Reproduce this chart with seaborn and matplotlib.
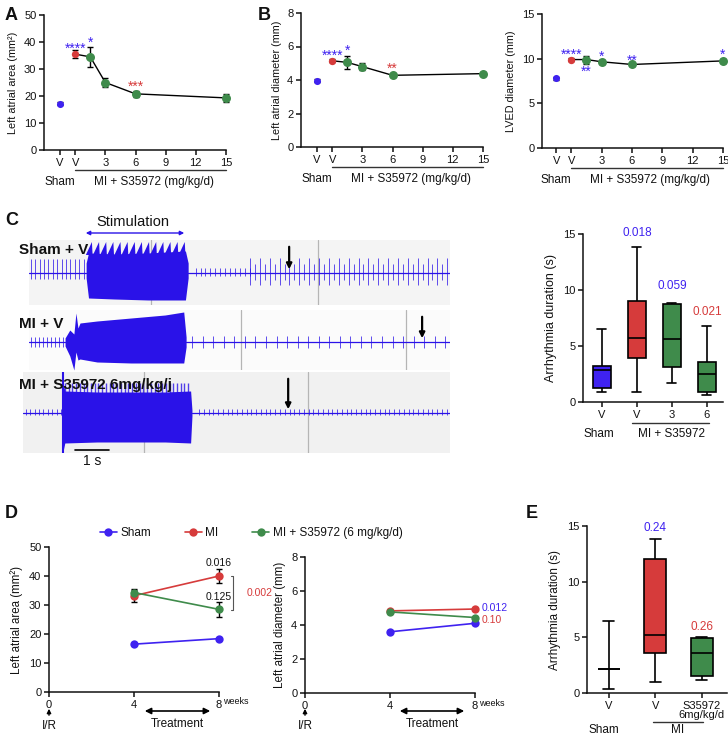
import numpy as np
import pandas as pd
import matplotlib
matplotlib.use("Agg")
import matplotlib.pyplot as plt
from matplotlib.lines import Line2D
import seaborn as sns

sns.set_theme(style="ticks")
plt.rcParams['font.family'] = ['Liberation Sans', 'DejaVu Sans']
plt.rcParams.update({'xtick.labelsize': 8, 'ytick.labelsize': 8, 'axes.labelsize': 7.8,
                     'axes.linewidth': 1.1, 'xtick.major.size': 3.5, 'ytick.major.size': 3.5,
                     'xtick.major.width': 1.1, 'ytick.major.width': 1.1,
                     'xtick.major.pad': 2, 'ytick.major.pad': 2,
                     'text.color': '#111', 'axes.labelcolor': '#111', 'axes.edgecolor': '#111',
                     'xtick.color': '#111', 'ytick.color': '#111'})

BLUE = '#3f22f0'
RED = '#d63b3b'
GREEN = '#3f8b4b'
TRACE = '#2a12e8'

# ---------------- data ----------------
# A / B / LVED : dose response (MI group, dose 0 = vehicle)
sham_x = -1.5
dose_mi = [0, 1.5, 3, 6, 15]
dose_ticks = [-1.5, 0, 3, 6, 9, 12, 15]
dose_ticklabels = ['V', 'V', '3', '6', '9', '12', '15']

area_sham, area_sham_err = 17.2, 0.5
area_mean = [35.5, 34.5, 25.0, 20.8, 19.3]
area_err = [1.4, 3.6, 1.7, 1.2, 1.6]
area_stars = [(0, 38.8, '****', BLUE), (1.5, 41.0, '*', BLUE), (6, 24.6, '***', RED)]

diam_sham, diam_sham_err = 3.95, 0.08
diam_mean = [5.15, 5.05, 4.8, 4.28, 4.38]
diam_err = [0.08, 0.4, 0.2, 0.08, 0.08]
diam_stars = [(0, 5.65, '****', BLUE), (1.5, 5.97, '*', BLUE), (6, 4.85, '**', RED)]

lved_sham, lved_sham_err = 7.8, 0.2
lved_mean = [9.9, 9.9, 9.65, 9.35, 9.75]
lved_err = [0.15, 0.45, 0.2, 0.15, 0.2]
lved_stars = [(0, 10.85, '****', BLUE), (1.5, 8.95, '**', BLUE), (3, 10.6, '*', BLUE),
              (6, 10.2, '**', BLUE), (15, 10.85, '*', BLUE)]

# C : ECG traces (time in s); beats = (start, end, interval, up, down)
tr1_stim = (1.68, 4.68)
tr1_env_t = [1.68, 1.75, 2.5, 3.5, 4.6, 4.68]
tr1_env_top = [10, 20, 19, 20, 22, 10]
tr1_env_bot = [-5, -25, -26, -27, -27, -5]
tr1_peaks = (1.85, 4.68, 0.21, 31)
tr1_beats = [(0.05, 1.68, 0.13, 14, 6), (4.9, 6.5, 0.145, 5, 3),
             (6.5, 12.4, 0.29, 15, 12), (6.645, 12.4, 0.29, 9, 7)]
tr1_arrow = 7.65
tr1_sep = [3.6, 8.5]

tr2_stim = (1.06, 4.62)
tr2_env_t = [1.06, 1.2, 1.32, 1.38, 1.44, 1.5, 2.0, 3.0, 4.0, 4.55, 4.62]
tr2_env_top = [4, 12, 8, 29, 14, 19, 21, 24, 27, 30, 5]
tr2_env_bot = [-4, -14, -28, -10, -18, -17, -20, -21, -21, -21, -5]
tr2_beats = [(0.05, 1.06, 0.12, 5, 5), (4.8, 12.4, 0.31, 6, 6)]
tr2_arrow = 11.56
tr2_sep = [6.24, 11.1]

tr3_stim = (1.0, 4.79)
tr3_env_t = [1.0, 1.05, 2.0, 3.0, 4.0, 4.75, 4.79]
tr3_env_top = [30, 22, 21, 21, 21, 22, 3]
tr3_env_bot = [-38, -30, -29, -29, -29, -30, -3]
tr3_spikes = (1.05, 4.79, 0.11, 30)
tr3_beats = [(-0.1, 0.95, 0.13, 4, 2), (5.0, 12.4, 0.14, 4, 1.5)]
tr3_arrow = 7.62
tr3_sep = [3.38, 8.2]

# C : box plot (five-number summaries)
c_groups = ['V_sham', 'V_mi', '3', '6']
c_ticklabels = ['V', 'V', '3', '6']
c_values = [[0.9, 1.25, 2.9, 3.2, 6.5],
            [0.9, 3.9, 5.7, 9.0, 13.8],
            [1.7, 3.1, 5.6, 8.75, 8.8],
            [0.6, 0.85, 2.5, 3.55, 6.8]]
c_pvals = [(1, 15.1, '0.018', BLUE), (2, 10.4, '0.059', BLUE), (3, 8.0, '0.021', RED)]

# D : time course
weeks = [4, 8]
d_groups = ['Sham', 'MI', 'MI + S35972 (6 mg/kg/d)']
d_area = {'Sham': [16.5, 18.4], 'MI': [33.2, 40.0], 'MI + S35972 (6 mg/kg/d)': [34.3, 28.5]}
d_area_err = {'MI': [2.0, 2.5], 'MI + S35972 (6 mg/kg/d)': [1.3, 2.5]}
d_diam = {'Sham': [3.6, 4.1], 'MI': [4.83, 4.94], 'MI + S35972 (6 mg/kg/d)': [4.77, 4.44]}

# E : box plot
e_groups = ['V_sham', 'V_mi', 'S']
e_ticklabels = ['V', 'V', 'S35972\n6mg/kg/d']
e_values = [[0.4, 2.2, 2.2, 2.2, 6.5],
            [1.0, 3.6, 5.25, 12.0, 13.8],
            [1.2, 1.5, 3.55, 4.95, 5.05]]
e_pvals = [(1, 14.8, '0.24', BLUE), (2, 5.9, '0.26', RED)]

# ---------------- figure ----------------
W, H = 728, 735
fig = plt.figure(figsize=(W / 100, H / 100), dpi=100)


def px_axes(l, t, r, b, **kw):
    return fig.add_axes([l / W, 1 - b / H, (r - l) / W, (b - t) / H], **kw)


def below(ax, x, off, s, **kw):
    h = ax.get_position().height * H
    ax.text(x, -off / h, s, transform=ax.get_xaxis_transform(), ha='center', va='center',
            clip_on=False, **kw)


def underline(ax, x0, x1, off):
    h = ax.get_position().height * H
    ax.plot([x0, x1], [-off / h] * 2, transform=ax.get_xaxis_transform(), color='#333',
            lw=1, clip_on=False)


def noclip(container):
    for a in container.get_children():
        a.set_clip_on(False)


def dose_panel(ax, sham, sham_err, means, errs, ylim, yticks, ylabel, stars, xlim):
    sns.lineplot(x=dose_mi, y=means, color='black', linewidth=1, ax=ax, zorder=2)
    noclip(ax.errorbar(dose_mi, means, yerr=errs, fmt='none', ecolor='black', elinewidth=1,
                       capsize=2.5, capthick=1, zorder=3))
    noclip(ax.errorbar([sham_x], [sham], yerr=[sham_err], fmt='none', ecolor='black',
                       elinewidth=1, capsize=2.5, capthick=1, zorder=3))
    sns.scatterplot(x=dose_mi[1:], y=means[1:], color=GREEN, s=42, linewidth=0, zorder=4,
                    ax=ax, clip_on=False)
    sns.scatterplot(x=[0], y=[means[0]], color=RED, s=28, linewidth=0, zorder=4, ax=ax)
    sns.scatterplot(x=[sham_x], y=[sham], color=BLUE, s=26, linewidth=0, zorder=4, ax=ax)
    for x, y, s, c in stars:
        # asterisks sit high in their glyph box, so nudge them down
        ax.annotate(s, (x, y), xytext=(0, -2.5), textcoords='offset points', color=c,
                    ha='center', va='center', fontsize=10, annotation_clip=False)
    ax.set_xlim(*xlim)
    ax.set_ylim(*ylim)
    ax.set_xticks(dose_ticks, dose_ticklabels)
    ax.set_yticks(yticks)
    ax.set_ylabel(ylabel, labelpad=4)
    sns.despine(ax=ax)
    underline(ax, 0, 15, 20)
    below(ax, sham_x, 32, 'Sham', fontsize=8.5)
    below(ax, 7.8, 32, 'MI + S35972 (mg/kg/d)', fontsize=8.5)


axA = px_axes(44, 15, 226, 150)
dose_panel(axA, area_sham, area_sham_err, area_mean, area_err, (0, 50), range(0, 51, 10),
           'Left atrial area (mm²)', area_stars, (-3.1, 15))
axB = px_axes(301, 13, 483, 147)
dose_panel(axB, diam_sham, diam_sham_err, diam_mean, diam_err, (0, 8), range(0, 9, 2),
           'Left atrial diameter (mm)', diam_stars, (-3.1, 15))
axL = px_axes(542, 14, 723, 148)
dose_panel(axL, lved_sham, lved_sham_err, lved_mean, lved_err, (0, 15), range(0, 16, 5),
           'LVED diameter (mm)', lved_stars, (-2.9, 15))


# ---- C traces ----
def draw_trace(ax, stim, env_t, env_top, env_bot, beats, arrow, seps, ylim, face):
    ax.set_facecolor(face)
    for s in seps:
        ax.axvline(s, color='#b5b5b5', lw=0.9, zorder=1)
    ax.plot([ax.get_xlim()[0], stim[0]], [0, 0], color=TRACE, lw=0.9, zorder=2)
    ax.plot([stim[1], 12.4], [0, 0], color=TRACE, lw=0.9, zorder=2)
    for b0, b1, step, up, down in beats:
        tb = np.arange(b0, b1, step)
        ax.vlines(tb, -down, up, color=TRACE, lw=0.7, alpha=0.75, zorder=2)
    ax.fill_between(env_t, env_bot, env_top, color=TRACE, lw=0, zorder=3)
    ax.annotate('', xy=(arrow, 1), xytext=(arrow, ylim[1] - 4),
                arrowprops=dict(arrowstyle='-|>', color='black', lw=1.6, mutation_scale=8),
                zorder=5)
    ax.set_ylim(*ylim)
    ax.set_xticks([])
    ax.set_yticks([])
    for sp in ax.spines.values():
        sp.set_visible(False)


t1 = px_axes(29, 240, 450, 305)
t1.set_xlim(0, 12.38)
draw_trace(t1, tr1_stim, tr1_env_t, tr1_env_top, tr1_env_bot, tr1_beats,
           tr1_arrow, tr1_sep, (-32, 33), '#f4f4f4')
# sawtooth crest of the stimulation burst
p0, p1, pstep, ptop = tr1_peaks
for tp in np.arange(p0, p1, pstep):
    t1.fill([tp - pstep * 0.85, tp, tp + 0.02], [18, ptop, 18], color=TRACE, lw=0, zorder=3)

t2 = px_axes(29, 310, 450, 370)
t2.set_xlim(0, 12.38)
draw_trace(t2, tr2_stim, tr2_env_t, tr2_env_top, tr2_env_bot, tr2_beats,
           tr2_arrow, tr2_sep, (-28, 32), '#fbfbfb')

t3 = px_axes(23, 372, 450, 453)
t3.set_xlim(-0.18, 12.38)
draw_trace(t3, tr3_stim, tr3_env_t, tr3_env_top, tr3_env_bot, tr3_beats,
           tr3_arrow, tr3_sep, (-40, 41), '#f1f1f1')
s0, s1, sstep, stop = tr3_spikes
t3.vlines(np.arange(s0, s1, sstep), 0, stop, color=TRACE, lw=1, alpha=0.8, zorder=3)
t3.vlines([1.0], -40, 41, color=TRACE, lw=1.5, zorder=4)
t3.plot([1.35, 2.35], [-37, -37], color='black', lw=1.2, zorder=5)


# ---- box plots ----
def box_panel(ax, groups, values, colors, ticklabels, pvals, xlim, width, labsize):
    df = pd.DataFrame({'group': np.repeat(groups, 5), 'value': np.concatenate(values)})
    sns.boxplot(data=df, x='group', y='value', hue='group', order=groups, hue_order=groups,
                palette=dict(zip(groups, colors)), whis=(0, 100), width=width, saturation=1,
                linecolor='black', linewidth=1.2, legend=False, ax=ax)
    for x, y, s, c in pvals:
        ax.text(x, y, s, color=c, ha='center', va='center', fontsize=8.5, clip_on=False)
    ax.set_xlim(*xlim)
    ax.set_ylim(0, 15)
    ax.set_yticks([0, 5, 10, 15])
    ax.set_xticks(range(len(groups)), ticklabels)
    ax.set_xlabel('')
    ax.set_ylabel('Arrhythmia duration (s)', labelpad=4, fontsize=labsize)
    sns.despine(ax=ax)


axC = px_axes(583, 234, 723, 402)
box_panel(axC, c_groups, c_values, [BLUE, RED, GREEN, GREEN], c_ticklabels, c_pvals,
          (-0.54, 3.46), 0.52, 9)
underline(axC, 0.86, 3.06, 21)
below(axC, -0.1, 32, 'Sham', fontsize=8.5)
below(axC, 2.0, 32, 'MI + S35972', fontsize=8.5)

axE = px_axes(587, 526, 727, 693)
box_panel(axE, e_groups, e_values, ['white', RED, GREEN], e_ticklabels, e_pvals,
          (-0.47, 2.54), 0.47, 8.5)
for lab in axE.get_xticklabels():
    lab.set_linespacing(0.9)
underline(axE, 0.95, 2.02, 29)
below(axE, -0.1, 37, 'Sham', fontsize=8.5)
below(axE, 1.48, 37, 'MI', fontsize=8.5)

# ---- D time course ----
pal = dict(zip(d_groups, [BLUE, RED, GREEN]))


def long_df(d):
    return pd.DataFrame([(g, w, v) for g in d_groups for w, v in zip(weeks, d[g])],
                        columns=['group', 'week', 'value'])


def time_panel(ax, d, ylim, yticks, ylabel):
    sns.lineplot(data=long_df(d), x='week', y='value', hue='group', hue_order=d_groups,
                 palette=pal, marker='o', markersize=6, markeredgewidth=0, linewidth=1.2,
                 legend=False, ax=ax, clip_on=False, zorder=3)
    ax.set_xlim(0, 8)
    ax.set_ylim(*ylim)
    ax.set_xticks([0, 4, 8])
    ax.set_yticks(yticks)
    ax.set_xlabel('')
    ax.set_ylabel(ylabel, labelpad=4, fontsize=8.3)
    sns.despine(ax=ax)
    ax.text(8.2, -10 / (ax.get_position().height * H), 'weeks', fontsize=6.5, ha='left',
            va='center', transform=ax.get_xaxis_transform(), clip_on=False)


axD1 = px_axes(49, 547, 219, 692)
time_panel(axD1, d_area, (0, 50), range(0, 51, 10), 'Left atrial area (mm²)')
for g in ['MI', 'MI + S35972 (6 mg/kg/d)']:
    noclip(axD1.errorbar(weeks, d_area[g], yerr=d_area_err[g], fmt='none', ecolor='black',
                         elinewidth=1, capsize=2.5, capthick=1, zorder=2))
axD1.text(8, 44.5, '0.016', ha='center', va='center', fontsize=7.5, clip_on=False)
axD1.text(8, 32.8, '0.125', ha='center', va='center', fontsize=7.5, clip_on=False)
axD1.plot([8.55, 8.66, 8.66, 8.55], [40, 40, 28.4, 28.4], color='#555', lw=0.8, clip_on=False)
axD1.text(9.3, 34.0, '0.002', color=RED, ha='left', va='center', fontsize=7.5, clip_on=False)

axD2 = px_axes(305, 557, 475, 693)
time_panel(axD2, d_diam, (0, 8), range(0, 9, 2), 'Left atrial diameter (mm)')
axD2.text(8.3, 5.0, '0.012', color=BLUE, ha='left', va='center', fontsize=7.5, clip_on=False)
axD2.text(8.3, 4.3, '0.10', color=RED, ha='left', va='center', fontsize=7.5, clip_on=False)

handles = [Line2D([], [], color=pal[g], marker='o', ms=6, mew=0, lw=1.2) for g in d_groups]
fig.legend(handles, d_groups, loc='center left', bbox_to_anchor=(100 / W, 1 - 533 / H), ncol=3,
           frameon=False, handlelength=1.4, handletextpad=0.3, columnspacing=2.9,
           borderpad=0, borderaxespad=0, fontsize=8.5)

# ---- overlay for labels and arrows ----
ov = fig.add_axes([0, 0, 1, 1], zorder=10)
ov.set_xlim(0, W)
ov.set_ylim(H, 0)
ov.axis('off')
ov.patch.set_alpha(0)

for x, y, s in [(5, 15, 'A'), (258, 15, 'B'), (5, 220, 'C'), (5, 513, 'D'), (526, 513, 'E')]:
    ov.text(x, y, s, fontsize=13, fontweight='bold', ha='left', va='center')

ov.text(133, 222, 'Stimulation', fontsize=10.5, ha='center', va='center')
ov.annotate('', xy=(83, 233), xytext=(187, 233),
            arrowprops=dict(arrowstyle='<|-|>', color=TRACE, lw=1, mutation_scale=6))
for y, s in [(250, 'Sham + V'), (324, 'MI + V'), (385, 'MI + S35972 6mg/kg/j')]:
    ov.text(19, y, s, fontsize=11, fontweight='bold', ha='left', va='center')
ov.text(92, 461, '1 s', fontsize=10, ha='center', va='center')

for x in [49, 305]:
    ov.annotate('', xy=(x, 706), xytext=(x, 718),
                arrowprops=dict(arrowstyle='-|>', color='black', lw=1, mutation_scale=6))
    ov.text(x, 726, 'I/R', fontsize=8.5, ha='center', va='center')
for x0, x1 in [(142, 213), (397, 467)]:
    ov.annotate('', xy=(x0, 711), xytext=(x1, 711),
                arrowprops=dict(arrowstyle='<|-|>', color='black', lw=1.2, mutation_scale=9))
    ov.text((x0 + x1) / 2, 724, 'Treatment', fontsize=8.5, ha='center', va='center')

fig.savefig('out.png', dpi=100)
